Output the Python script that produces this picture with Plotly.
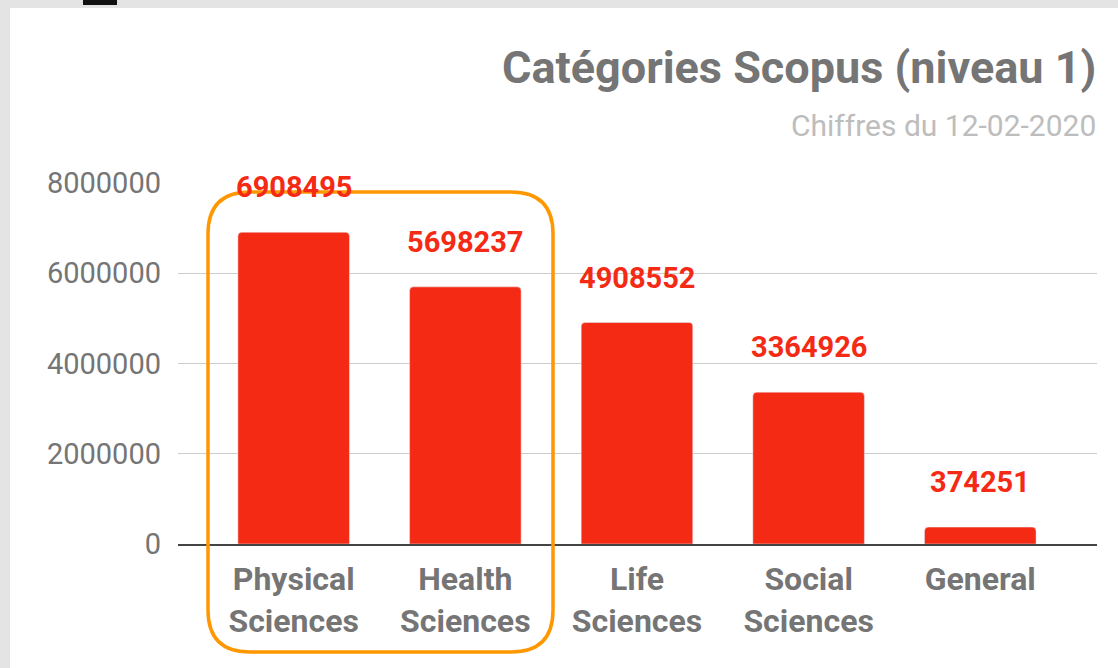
"""Scopus level-1 categories bar chart."""

import plotly.graph_objects as go

CATEGORIES = ['Physical<br>Sciences', 'Health<br>Sciences', 'Life<br>Sciences',
              'Social<br>Sciences', 'General']
VALUES = [6908495, 5698237, 4908552, 3364926, 374251]
Y_TICKS = [0, 2000000, 4000000, 6000000, 8000000]

TITLE = 'Catégories Scopus (niveau 1)'
SUBTITLE = 'Chiffres du 12-02-2020'

RED = '#f42a14'
GREY_TEXT = '#757575'
ORANGE = '#ff9800'

W, H = 1118, 668
L, R, T, B = 178, 21, 183, 124


def px(x):
    # pixel -> paper x
    return (x - L) / (W - L - R)


def py(y):
    # pixel -> paper y
    return (H - B - y) / (H - T - B)


xs = list(range(len(CATEGORIES)))

fig = go.Figure()
fig.add_trace(go.Bar(
    x=xs,
    y=VALUES,
    marker=dict(color=RED, cornerradius=4),
    hoverinfo='y',
))

for x, v in zip(xs, VALUES):
    fig.add_annotation(
        x=x, y=v, text=f'<b>{v}</b>', showarrow=False,
        yanchor='bottom', yshift=26,
        font=dict(family='Roboto', size=29, color=RED),
    )

# highlight around the first two categories (rounded box)
x0, x1, y0, y1, r = px(208), px(553), py(652), py(192), 42
rx = r / (W - L - R)
ry = r / (H - T - B)
path = (f'M {x0 + rx},{y1} L {x1 - rx},{y1} Q {x1},{y1} {x1},{y1 - ry} '
        f'L {x1},{y0 + ry} Q {x1},{y0} {x1 - rx},{y0} '
        f'L {x0 + rx},{y0} Q {x0},{y0} {x0},{y0 + ry} '
        f'L {x0},{y1 - ry} Q {x0},{y1} {x0 + rx},{y1} Z')

fig.update_layout(
    width=W, height=H,
    margin=dict(l=L, r=R, t=T, b=B),
    paper_bgcolor='#e4e4e4',
    plot_bgcolor='rgba(0,0,0,0)',
    bargap=0.35,
    showlegend=False,
    font=dict(family='Roboto', color=GREY_TEXT),
    xaxis=dict(
        tickvals=xs, ticktext=[f'<b>{c}</b>' for c in CATEGORIES],
        range=[-0.674, 4.68], showgrid=False, zeroline=False,
        showline=True, linecolor='#444444', linewidth=2,
        tickfont=dict(size=32, color=GREY_TEXT), ticks='', ticklabelstandoff=6,
    ),
    yaxis=dict(
        tickvals=Y_TICKS, ticktext=[str(t) for t in Y_TICKS],
        range=[0, 8000000], showgrid=True, gridcolor='#cccccc', gridwidth=1,
        zeroline=False, ticks='', ticklabelstandoff=16,
        tickfont=dict(size=29, color=GREY_TEXT),
    ),
    shapes=[
        # white card
        dict(type='rect', xref='paper', yref='paper', layer='below',
             x0=px(10), x1=px(W + 5), y0=py(H + 5), y1=py(8),
             fillcolor='white', line=dict(width=0)),
        # dark tab at the top edge
        dict(type='rect', xref='paper', yref='paper', layer='below',
             x0=px(83), x1=px(117), y0=py(5), y1=py(-2),
             fillcolor='#111111', line=dict(width=0)),
        dict(type='path', xref='paper', yref='paper', layer='above',
             path=path, line=dict(color=ORANGE, width=3.5)),
    ],
)

fig.add_annotation(
    xref='paper', yref='paper', x=px(1098), y=py(68),
    xanchor='right', yanchor='middle', showarrow=False,
    text=f'<b>{TITLE}</b>', font=dict(family='Roboto', size=45, color=GREY_TEXT),
)
fig.add_annotation(
    xref='paper', yref='paper', x=px(1098), y=py(126),
    xanchor='right', yanchor='middle', showarrow=False,
    text=SUBTITLE, font=dict(family='Roboto', size=30, color='#bdbdbd'),
)

fig.write_html('out.html', config={'displayModeBar': False},
               post_script="document.body.style.margin='0';")
